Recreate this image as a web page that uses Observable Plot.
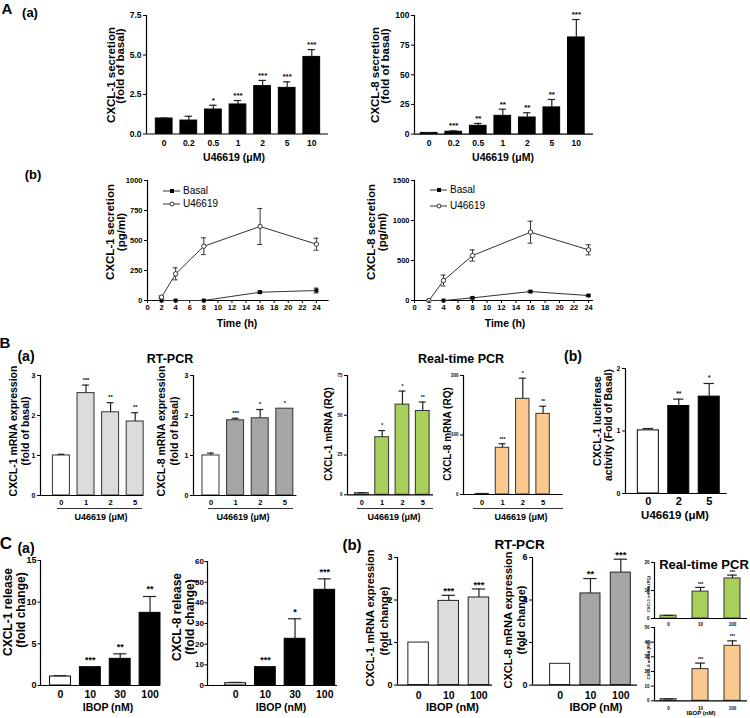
<!DOCTYPE html>
<html><head><meta charset="utf-8">
<script src="https://cdn.jsdelivr.net/npm/d3@7"></script>
<script src="https://cdn.jsdelivr.net/npm/@observablehq/plot@0.6"></script>
<style>
body{margin:0;background:#fff;}
#fig{position:relative;width:750px;height:718px;overflow:hidden;font-family:"Liberation Sans",Arial,sans-serif;color:#000;}
.t{position:absolute;white-space:nowrap;font-weight:bold;line-height:1;}
.n{font-weight:normal;}
.ul{position:absolute;height:0;border-top:1px solid #333;}
</style></head><body><div id="fig"></div>
<script>
// ---------- DATA ----------
// A(a) dose response (fold of basal)
const doseA = ["0","0.2","0.5","1","2","5","10"];
const cxcl1Fold = [0.98,0.85,1.55,1.87,3.03,2.92,4.88];
const cxcl1FoldErr = [0.03,0.27,0.27,0.25,0.36,0.38,0.46];
const cxcl1FoldSig = ["","","*","***","***","***","***"];
const cxcl8Fold = [1,2,7,15.4,14,22.5,81.5];
const cxcl8FoldErr = [0.2,0.8,2,5.6,4,6.7,15.1];
const cxcl8FoldSig = ["","***","**","**","**","**","***"];
// A(b) time course (pg/ml)
const timeH = [2,4,8,16,24];
const timeTicks = [0,2,4,6,8,10,12,14,16,18,20,22,24];
const cxcl1Basal = [0,0,0,69,83];
const cxcl1BasalErr = [3,3,3,10,20];
const cxcl1U = [28,222,452,617,469];
const cxcl1UErr = [10,50,70,150,50];
const cxcl8Basal = [0,0,33,112,62];
const cxcl8BasalErr = [3,3,8,10,8];
const cxcl8U = [0,250,562,854,633];
const cxcl8UErr = [5,68,70,137,63];
const seriesNames = ["Basal","U46619"];
// B(a) RT-PCR and real-time PCR
const doseB = ["0","1","2","5"];
const rtCxcl1 = [1.0,2.56,2.08,1.85];
const rtCxcl1Err = [0.03,0.2,0.24,0.22];
const rtCxcl1Sig = ["","***","**","**"];
const rtCxcl8 = [1.0,1.88,1.93,2.17];
const rtCxcl8Err = [0.06,0.05,0.22,0];
const rtCxcl8Sig = ["","***","*","*"];
const rqCxcl1 = [1,36.2,56.7,52.7];
const rqCxcl1Err = [0.3,4.2,8.5,5.6];
const rqCxcl1Sig = ["","*","*","**"];
const rqCxcl8 = [1,78.5,160.8,135.5];
const rqCxcl8Err = [0.3,6.7,34.7,12.8];
const rqCxcl8Sig = ["","***","*","**"];
// B(b) luciferase
const doseLuc = ["0","2","5"];
const lucAct = [1.01,1.40,1.55];
const lucErr = [0.03,0.11,0.21];
const lucSig = ["","**","*"];
// C(a) IBOP release
const ibopA = ["0","10","30","100"];
const relCxcl1 = [1.08,2.2,3.2,8.72];
const relCxcl1Err = [0.1,0.05,0.6,1.96];
const relCxcl1Sig = ["","***","**","**"];
const relCxcl8 = [1.1,8.9,22.6,46.3];
const relCxcl8Err = [0.4,0.2,9.7,5.3];
const relCxcl8Sig = ["","***","*","***"];
// C(b) IBOP mRNA
const ibopB = ["0","10","100"];
const ibopRt1 = [1.0,1.98,2.06];
const ibopRt1Err = [0,0.13,0.2];
const ibopRt1Sig = ["","***","***"];
const ibopRt8 = [1.0,4.31,5.29];
const ibopRt8Err = [0,0.7,0.63];
const ibopRt8Sig = ["","**","***"];
const ibopRq1 = [1,9.6,14.3];
const ibopRq1Err = [0.1,1.5,1.2];
const ibopRq1Sig = ["","***","***"];
const ibopRq8 = [1.1,21.6,37.5];
const ibopRq8Err = [0.2,4.1,3.4];
const ibopRq8Sig = ["","***","***"];

// ---------- DRAWING ----------
const GREEN = "#a9cf5b", ORANGE = "#fbc98e", LGRAY = "#dcdcdc", MGRAY = "#a6a6a6";
const FONT = "Liberation Sans, Arial, sans-serif";
const fig = document.getElementById("fig");

function place(el, left, top) {
  el.style.position = "absolute"; el.style.left = left + "px"; el.style.top = top + "px";
  fig.appendChild(el);
}
function label(x, y, text, size, opts = {}) {
  const d = document.createElement("div");
  d.className = "t" + (opts.normal ? " n" : "");
  d.textContent = text;
  d.style.left = x + "px"; d.style.top = y + "px"; d.style.fontSize = size + "px";
  const a = opts.anchor || "middle";
  const tx = a === "start" ? "0" : a === "end" ? "-100%" : "-50%";
  d.style.transform = `translate(${tx},-50%)` + (opts.rotate ? " rotate(-90deg)" : "");
  fig.appendChild(d);
}
function vlabel(x, y, text, size) { label(x, y, text, size, {rotate: true}); }
function underline(x1, x2, y) {
  const d = document.createElement("div"); d.className = "ul";
  d.style.left = x1 + "px"; d.style.top = y + "px"; d.style.width = (x2 - x1) + "px";
  fig.appendChild(d);
}

function barPanel(c) {
  const mL = 40, mR = 6, mT = 16, mB = 26;
  const W = c.xr - c.ax + mL + mR, H = c.y0 - c.ytop + mT + mB;
  const data = c.cats.map((k, i) => ({i, k, v: c.vals[i], e: c.errs[i], s: c.sig[i]}));
  const withErr = data.filter(d => d.e > 0);
  const svg = Plot.plot({
    width: W, height: H, marginLeft: mL, marginRight: mR, marginTop: mT, marginBottom: mB,
    x: {type: "linear", domain: c.dom},
    y: {domain: [0, c.ymax]},
    style: {background: "transparent", overflow: "visible", fontFamily: FONT, fontWeight: "bold"},
    marks: [
      Plot.rect(data, {x1: d => d.i - c.hw, x2: d => d.i + c.hw, y1: 0, y2: "v",
        fill: d => c.fill(d.i), stroke: c.stroke, strokeWidth: 1}),
      Plot.ruleX(withErr, {x: "i", y1: "v", y2: d => d.v + d.e, stroke: "#222", strokeWidth: 1.2}),
      Plot.ruleY(withErr, {y: d => d.v + d.e, x1: d => d.i - c.cap, x2: d => d.i + c.cap, stroke: "#222", strokeWidth: 1.2}),
      Plot.text(data, {x: "i", y: d => d.v + d.e, text: "s", dy: c.starDy, fontSize: c.starSize}),
      Plot.ruleX([c.dom[0]], {stroke: "#000", strokeWidth: 1.2}),
      Plot.ruleY([0], {stroke: "#000", strokeWidth: 1.2}),
      Plot.axisY({ticks: c.yticks, tickFormat: c.yfmt || d3.format("d"), tickSize: c.yTick ?? 3, tickPadding: c.yPad ?? 2, fontSize: c.ySize, label: null}),
      Plot.axisX({ticks: data.map(d => d.i), tickFormat: i => c.cats[i], tickSize: 0, tickPadding: c.xPad, fontSize: c.xSize, label: null})
    ]
  });
  place(svg, c.ax - mL, c.ytop - mT);
}

function linePanel(c) {
  const mL = 40, mR = 6, mT = 16, mB = 26;
  const W = c.xr - c.ax + mL + mR, H = c.y0 - c.ytop + mT + mB;
  const basal = timeH.map((t, i) => ({t, v: c.basal[i], e: c.basalErr[i]}));
  const u = timeH.map((t, i) => ({t, v: c.u[i], e: c.uErr[i]}));
  const err = d => [
    Plot.ruleX(d, {x: "t", y1: p => Math.max(0, p.v - p.e), y2: p => p.v + p.e, stroke: "#333"}),
    Plot.ruleY(d, {y: p => p.v + p.e, x1: p => p.t - c.cap, x2: p => p.t + c.cap, stroke: "#333"}),
    Plot.ruleY(d.filter(p => p.v - p.e > 0), {y: p => p.v - p.e, x1: p => p.t - c.cap, x2: p => p.t + c.cap, stroke: "#333"})
  ];
  const svg = Plot.plot({
    width: W, height: H, marginLeft: mL, marginRight: mR, marginTop: mT, marginBottom: mB,
    x: {domain: c.xdom},
    y: {domain: [0, c.ymax]},
    style: {background: "transparent", overflow: "visible", fontFamily: FONT, fontWeight: "bold"},
    marks: [
      Plot.ruleX([0], {stroke: "#000", strokeWidth: 1.2}),
      Plot.ruleY([0], {stroke: "#000", strokeWidth: 1.2}),
      ...err(basal), ...err(u),
      Plot.line(basal, {x: "t", y: "v", stroke: "#333", strokeWidth: 1}),
      Plot.line(u, {x: "t", y: "v", stroke: "#333", strokeWidth: 1}),
      Plot.dot(basal, {x: "t", y: "v", symbol: "square", r: 2.2, fill: "#000"}),
      Plot.dot(u, {x: "t", y: "v", symbol: "circle", r: 2.2, fill: "#fff", stroke: "#333", strokeWidth: 1}),
      Plot.axisY({ticks: c.yticks, tickFormat: d3.format("d"), tickSize: 3, tickPadding: 2, fontSize: 7.5, label: null}),
      Plot.axisX({ticks: timeTicks, tickFormat: d3.format("d"), tickSize: 3, tickPadding: 1, fontSize: 7.5, label: null})
    ]
  });
  place(svg, c.ax - mL, c.ytop - mT);
}

function legendItem(x, y, filled, text) {
  const d = document.createElement("div");
  d.innerHTML = `<svg width="18" height="8" style="overflow:visible;display:block"><line x1="0" y1="4" x2="17" y2="4" stroke="#333"/>` +
    (filled ? `<rect x="7" y="2" width="4" height="4" fill="#000"/>` : `<circle cx="9" cy="4" r="2" fill="#fff" stroke="#333"/>`) + `</svg>`;
  place(d, x, y - 4);
  label(x + 20, y, text, 10, {anchor: "start", normal: true});
}

const white0 = col => i => i === 0 ? "#fff" : col;

// ----- A(a)
barPanel({ax: 146, ytop: 14.5, y0: 133, xr: 328, dom: [-0.72, 6.68], ymax: 7.5, yticks: [0, 2.5, 5, 7.5], yfmt: d3.format(".1f"),
  cats: doseA, vals: cxcl1Fold, errs: cxcl1FoldErr, sig: cxcl1FoldSig, hw: 0.34, cap: 0.15,
  fill: () => "#000", stroke: "#000", starDy: -5.2, starSize: 8, ySize: 8.5, xSize: 8.5, xPad: 5.6});
barPanel({ax: 414.3, ytop: 14.7, y0: 133.3, xr: 593.3, dom: [-0.6, 6.7], ymax: 100, yticks: [0, 25, 50, 75, 100],
  cats: doseA, vals: cxcl8Fold, errs: cxcl8FoldErr, sig: cxcl8FoldSig, hw: 0.34, cap: 0.15,
  fill: () => "#000", stroke: "#000", starDy: -5.2, starSize: 8, ySize: 8.5, xSize: 8.5, xPad: 5.6});
// ----- A(b)
linePanel({ax: 146.7, ytop: 180, y0: 300, xr: 328.3, xdom: [0, 25.8], ymax: 1000, yticks: [0, 250, 500, 750, 1000],
  basal: cxcl1Basal, basalErr: cxcl1BasalErr, u: cxcl1U, uErr: cxcl1UErr, cap: 0.35});
linePanel({ax: 414.3, ytop: 180, y0: 300, xr: 593.3, xdom: [0, 24.68], ymax: 1500, yticks: [0, 500, 1000, 1500],
  basal: cxcl8Basal, basalErr: cxcl8BasalErr, u: cxcl8U, uErr: cxcl8UErr, cap: 0.35});
// ----- B(a)
barPanel({ax: 40, ytop: 375, y0: 495, xr: 143.3, dom: [-0.85, 3.35], ymax: 3, yticks: [0, 1, 2, 3],
  cats: doseB, vals: rtCxcl1, errs: rtCxcl1Err, sig: rtCxcl1Sig, hw: 0.345, cap: 0.14,
  fill: white0(LGRAY), stroke: "#333", starDy: -5.2, starSize: 5.7, ySize: 7, xSize: 7.5, xPad: 4.3});
barPanel({ax: 193.3, ytop: 375, y0: 495, xr: 296.7, dom: [-0.71, 3.49], ymax: 3, yticks: [0, 1, 2, 3],
  cats: doseB, vals: rtCxcl8, errs: rtCxcl8Err, sig: rtCxcl8Sig, hw: 0.345, cap: 0.14,
  fill: white0(MGRAY), stroke: "#333", starDy: -5.2, starSize: 5.7, ySize: 7, xSize: 7.5, xPad: 4.3});
barPanel({ax: 347, ytop: 375, y0: 494.3, xr: 433, dom: [-0.71, 3.53], ymax: 75, yticks: [0, 25, 50, 75],
  cats: doseB, vals: rqCxcl1, errs: rqCxcl1Err, sig: rqCxcl1Sig, hw: 0.34, cap: 0.17,
  fill: () => GREEN, stroke: "#333", starDy: -4.7, starSize: 5, ySize: 4.5, xSize: 7.5, xPad: 4.8});
barPanel({ax: 463.3, ytop: 375, y0: 494, xr: 563, dom: [-0.92, 3.99], ymax: 200, yticks: [0, 100, 200],
  cats: doseB, vals: rqCxcl8, errs: rqCxcl8Err, sig: rqCxcl8Sig, hw: 0.33, cap: 0.17,
  fill: () => ORANGE, stroke: "#333", starDy: -4.7, starSize: 5, ySize: 4.5, xSize: 7.5, xPad: 4.8});
// ----- B(b)
barPanel({ax: 625, ytop: 368.3, y0: 493.3, xr: 726.7, dom: [-0.75, 2.59], ymax: 2, yticks: [0, 1, 2],
  cats: doseLuc, vals: lucAct, errs: lucErr, sig: lucSig, hw: 0.345, cap: 0.17,
  fill: white0("#000"), stroke: "#000", starDy: -5.6, starSize: 6.5, ySize: 7, xSize: 11, xPad: 3.6});
// ----- C(a)
barPanel({ax: 40, ytop: 560, y0: 685, xr: 160, dom: [-0.67, 3.35], ymax: 15, yticks: [0, 5, 10, 15],
  cats: ibopA, vals: relCxcl1, errs: relCxcl1Err, sig: relCxcl1Sig, hw: 0.35, cap: 0.22,
  fill: white0("#000"), stroke: "#000", starDy: -7, starSize: 9, ySize: 9, xSize: 10.5, xPad: 5.5, yTick: 2.5, yPad: 1.5});
barPanel({ax: 206.7, ytop: 561, y0: 685, xr: 336.7, dom: [-0.95, 3.43], ymax: 60, yticks: [0, 10, 20, 30, 40, 50, 60],
  cats: ibopA, vals: relCxcl8, errs: relCxcl8Err, sig: relCxcl8Sig, hw: 0.35, cap: 0.22,
  fill: white0("#000"), stroke: "#000", starDy: -7, starSize: 9, ySize: 8, xSize: 10.5, xPad: 5.5, yTick: 2.5, yPad: 1});
// ----- C(b)
barPanel({ax: 396.7, ytop: 556.7, y0: 684.3, xr: 491.7, dom: [-0.7, 2.45], ymax: 3, yticks: [0, 1, 2, 3],
  cats: ibopB, vals: ibopRt1, errs: ibopRt1Err, sig: ibopRt1Sig, hw: 0.34, cap: 0.22,
  fill: white0(LGRAY), stroke: "#222", starDy: -4.5, starSize: 9.5, ySize: 9, xSize: 10.5, xPad: 6});
barPanel({ax: 531.7, ytop: 556.7, y0: 684.3, xr: 636.7, dom: [-0.91, 2.55], ymax: 6, yticks: [0, 2, 4, 6],
  cats: ibopB, vals: ibopRt8, errs: ibopRt8Err, sig: ibopRt8Sig, hw: 0.33, cap: 0.22,
  fill: white0(MGRAY), stroke: "#222", starDy: -4.5, starSize: 9.5, ySize: 9, xSize: 10.5, xPad: 6});
barPanel({ax: 654, ytop: 562.3, y0: 618.3, xr: 747, dom: [-0.44, 2.47], ymax: 20, yticks: [0, 10, 20],
  cats: ibopB, vals: ibopRq1, errs: ibopRq1Err, sig: ibopRq1Sig, hw: 0.25, cap: 0.15,
  fill: () => GREEN, stroke: "#333", starDy: -2.8, starSize: 4.5, ySize: 4.5, xSize: 4.5, xPad: 4});
barPanel({ax: 654, ytop: 626.7, y0: 700, xr: 747, dom: [-0.44, 2.47], ymax: 50, yticks: [0, 10, 20, 30, 40, 50],
  cats: ibopB, vals: ibopRq8, errs: ibopRq8Err, sig: ibopRq8Sig, hw: 0.25, cap: 0.15,
  fill: () => ORANGE, stroke: "#333", starDy: -3.8, starSize: 4.5, ySize: 4.5, xSize: 4.5, xPad: 5.7});

// ---------- TEXT ----------
label(7, 8, "A", 15); label(30, 12, "(a)", 13); label(33, 174, "(b)", 13);
vlabel(111.5, 75, "CXCL-1 secretion", 11.5); vlabel(120.5, 66, "(fold of basal)", 11.5);
vlabel(376, 75, "CXCL-8 secretion", 11.5); vlabel(386, 66, "(fold of basal)", 11.5);
label(234, 157, "U46619 (μM)", 10.5); label(503, 157, "U46619 (μM)", 10.5);
vlabel(111, 232, "CXCL-1 secretion", 11.5); vlabel(122, 232, "(pg/ml)", 11.5);
vlabel(372, 232, "CXCL-8 secretion", 11.5); vlabel(383, 232, "(pg/ml)", 11.5);
label(237, 323, "Time (h)", 10.5); label(505, 323, "Time (h)", 10.5);
legendItem(163, 190.7, true, seriesNames[0]); legendItem(163, 204, false, seriesNames[1]);
legendItem(430, 190, true, seriesNames[0]); legendItem(430, 205.5, false, seriesNames[1]);

label(5, 342, "B", 15); label(26, 356, "(a)", 14); label(573, 356, "(b)", 14);
label(170, 359, "RT-PCR", 12.5); label(461, 359, "Real-time PCR", 12.5);
vlabel(12.5, 431, "CXCL-1 mRNA expression", 10.5); vlabel(24.5, 431, "(fold of basal)", 10.5);
vlabel(161, 431, "CXCL-8 mRNA expression", 10.5); vlabel(174, 431, "(fold of basal)", 10.5);
vlabel(329, 434, "CXCL-1 mRNA (RQ)", 10); vlabel(447.5, 434, "CXCL-8 mRNA (RQ)", 10);
vlabel(597, 421, "CXCL-1 luciferase", 10.5); vlabel(608, 425, "activity (Fold of Basal)", 10.5);
underline(57, 142, 507.5); underline(208, 293, 507.5); underline(357, 433, 507.5); underline(473, 563, 507.5);
label(101, 517, "U46619 (μM)", 9); label(243, 517, "U46619 (μM)", 9);
label(394, 517, "U46619 (μM)", 9); label(521, 517, "U46619 (μM)", 9);
label(675, 515.5, "U46619 (μM)", 11.5);

label(6, 543, "C", 17); label(26, 548, "(a)", 14); label(352, 544, "(b)", 15);
label(519.5, 544.5, "RT-PCR", 13.5); label(704, 563.5, "Real-time PCR", 13);
vlabel(8, 612, "CXCL-1 release", 12); vlabel(21, 610, "(fold change)", 12);
vlabel(177, 617, "CXCL-8 release", 12); vlabel(190, 617, "(fold change)", 12);
label(108, 707, "IBOP (nM)", 10.5); label(281, 707, "IBOP (nM)", 10.5);
vlabel(370, 618, "CXCL-1 mRNA expression", 11); vlabel(384, 621, "(fold change)", 11);
vlabel(508, 620, "CXCL-8 mRNA expression", 11); vlabel(521, 620, "(fold change)", 11);
label(452.5, 707, "IBOP (nM)", 11); label(596, 707, "IBOP (nM)", 11);
vlabel(648.5, 594, "CXCL1 mRNA (RQ)", 4); vlabel(648.5, 660, "CXCL-8 mRNA (RQ)", 4.2);
label(701, 713, "IBOP (nM)", 6);
</script></body></html>
